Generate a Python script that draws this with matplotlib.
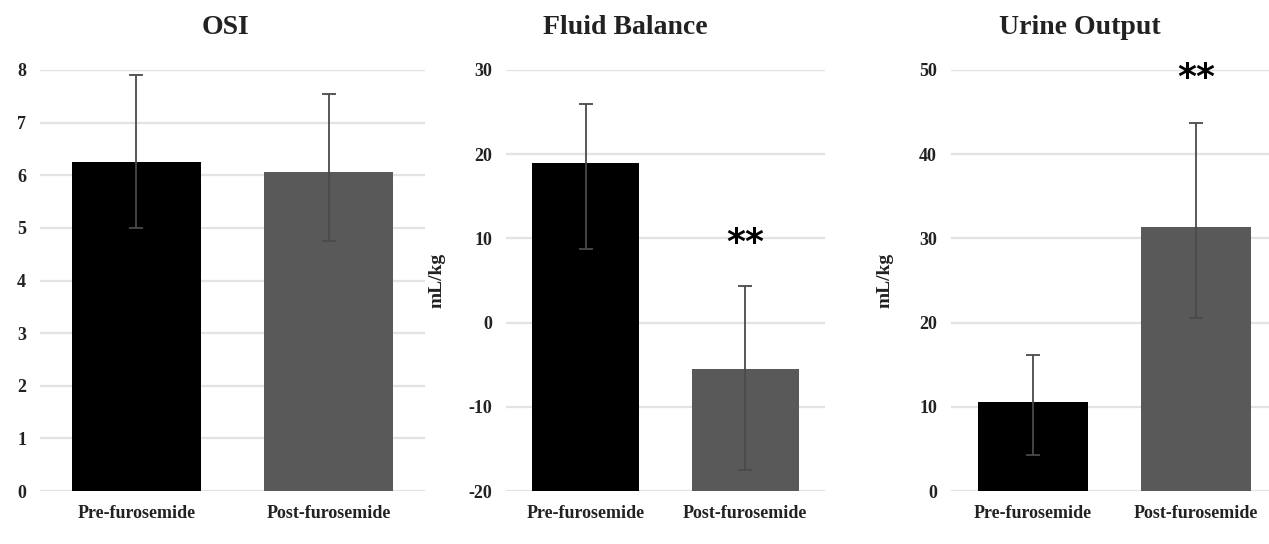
import matplotlib
matplotlib.use("Agg")
import matplotlib.pyplot as plt
import numpy as np

plt.rcParams['font.family'] = ['Liberation Serif', 'DejaVu Serif']
plt.rcParams['font.weight'] = 'bold'
plt.rcParams['axes.unicode_minus'] = False

groups = ['Pre-furosemide', 'Post-furosemide']

# OSI
osi_vals = [6.25, 6.06]
osi_lo = [5.0, 4.75]
osi_hi = [7.91, 7.55]

# Fluid balance (mL/kg)
fb_vals = [19.0, -5.5]
fb_lo = [8.8, -17.5]
fb_hi = [26.0, 4.35]

# Urine output (mL/kg)
uo_vals = [10.6, 31.3]
uo_lo = [4.3, 20.5]
uo_hi = [16.15, 43.7]

titles = ['OSI', 'Fluid Balance', 'Urine Output']
ylims = [(0, 8), (-20, 30), (0, 50)]
ysteps = [1, 10, 10]
ylabels = [None, 'mL/kg', 'mL/kg']
stars = [None, ('**', 1, 9.5), ('**', 1, 49.0)]

bar_colors = ['#000000', '#595959']
W, H = 1269, 544

# axes boxes in pixels: left, right, top, bottom
boxes = [(40, 425, 70, 491), (506, 825, 70, 491), (951, 1278, 70, 491)]
title_x = [225, 625, 1080]
ylab_x = [None, 445, 893]

fig = plt.figure(figsize=(W / 100, H / 100), dpi=100)

data = [(osi_vals, osi_lo, osi_hi), (fb_vals, fb_lo, fb_hi), (uo_vals, uo_lo, uo_hi)]

for i, (vals, lo, hi) in enumerate(data):
    l, r, t, b = boxes[i]
    ax = fig.add_axes([l / W, 1 - b / H, (r - l) / W, (b - t) / H])
    x = np.arange(len(groups))
    vals = np.array(vals)
    base = ylims[i][0]  # bars rise from the bottom of the axis, Excel style
    err = [vals - np.array(lo), np.array(hi) - vals]
    ax.bar(x, vals - base, bottom=base, width=0.67, color=bar_colors, zorder=2)
    ax.errorbar(x, vals, yerr=err, fmt='none', ecolor='#4a4a4a', elinewidth=1.3,
                capsize=5, capthick=1.3, zorder=3)
    ax.set_xlim(-0.5, 1.5)
    ax.set_ylim(*ylims[i])
    ax.set_yticks(np.arange(ylims[i][0], ylims[i][1] + 0.01, ysteps[i]))
    ax.yaxis.grid(True, color='#e3e3e3', linewidth=1.6, zorder=0)
    ax.set_axisbelow(True)
    for s in ax.spines.values():
        s.set_visible(False)
    ax.set_xticks(x)
    ax.set_xticklabels(groups, fontsize=13, fontweight='bold')
    ax.tick_params(axis='both', length=0, pad=10, labelsize=13, colors='#222222')
    for lab in ax.get_yticklabels():
        lab.set_fontweight('bold')
    if ylabels[i]:
        ax.set_ylabel(ylabels[i], fontsize=14, fontweight='bold', color='#222222')
        ax.yaxis.set_label_coords((ylab_x[i] - l) / (r - l), 0.5)
    if stars[i]:
        txt, xi, yv = stars[i]
        ax.text(xi, yv, txt, ha='center', va='center', fontsize=26,
                fontweight='bold', family='DejaVu Sans', zorder=4)
    fig.text(title_x[i] / W, 1 - 28 / H, titles[i], ha='center', va='center',
             fontsize=20, fontweight='bold', color='#222222')

fig.savefig('out.png', dpi=100)
